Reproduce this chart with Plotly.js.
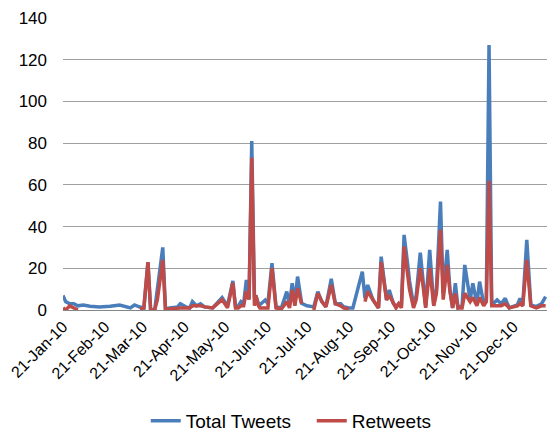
<!DOCTYPE html>
<html>
<head>
<meta charset="utf-8">
<script src="https://cdn.plot.ly/plotly-3.0.1.min.js"></script>
<style>html,body{margin:0;padding:0;background:#fff;}#chart{width:547px;height:434px;}</style>
</head>
<body>
<div id="chart"></div>
<script>
const dates = [
"2010-01-21","2010-01-23","2010-01-26","2010-01-29","2010-02-01","2010-02-05","2010-02-10","2010-02-17","2010-02-25","2010-03-04",
"2010-03-12","2010-03-15","2010-03-19","2010-03-22","2010-03-25","2010-03-27","2010-03-30","2010-04-01","2010-04-05","2010-04-07",
"2010-04-10","2010-04-16","2010-04-18","2010-04-22","2010-04-25","2010-04-27","2010-04-30","2010-05-03","2010-05-06","2010-05-12",
"2010-05-19","2010-05-23","2010-05-27","2010-05-29","2010-05-31","2010-06-02","2010-06-04","2010-06-06","2010-06-08","2010-06-10",
"2010-06-12","2010-06-13","2010-06-15","2010-06-16","2010-06-20","2010-06-22","2010-06-25","2010-06-28","2010-07-02","2010-07-06",
"2010-07-08","2010-07-10","2010-07-12","2010-07-14","2010-07-17","2010-07-21","2010-07-26","2010-07-29","2010-08-01","2010-08-04",
"2010-08-08","2010-08-11","2010-08-15","2010-08-17","2010-08-21","2010-08-24","2010-08-31","2010-09-02","2010-09-04","2010-09-08",
"2010-09-10","2010-09-12","2010-09-14","2010-09-18","2010-09-20","2010-09-23","2010-09-25","2010-09-27","2010-09-29","2010-10-01",
"2010-10-04","2010-10-05","2010-10-08","2010-10-10","2010-10-13","2010-10-15","2010-10-17","2010-10-20","2010-10-23","2010-10-25",
"2010-10-28","2010-10-30","2010-11-02","2010-11-04","2010-11-06","2010-11-08","2010-11-10","2010-11-13","2010-11-15","2010-11-19",
"2010-11-21","2010-11-24","2010-11-26","2010-11-29","2010-12-01","2010-12-03","2010-12-05","2010-12-09","2010-12-12","2010-12-15",
"2010-12-18","2010-12-24","2010-12-26","2010-12-28","2010-12-31","2011-01-03","2011-01-07","2011-01-11","2011-01-14"
];
const totalTweets = [
7,4,3,3,2,2.4,1.8,1.4,1.8,2.4,
1,2.4,1.4,1,23,0,0,10,30,0.5,
1,1.5,3,1.5,1,4,2,3,1.5,1,
6,2,14,1,2,4,3,14.4,5,81,
6,7,3,2.5,4.8,3,22.4,1.6,1,8.8,
2.4,12.8,4,16,3.2,2,1.5,8.8,4,1.6,
15,3,3,1.6,1,1,18.4,5.6,12,4.8,
3.2,1,25.6,4.8,9.6,3.2,1.6,3,2,36,
20,14,2.4,7,27.5,12.8,1.6,28.8,2.4,10,
52,8,28.8,9.6,1,12.8,1,2,21.6,4.8,
12.8,3,13.6,3,5,127,2.4,4.8,3,5.6,
1,2.4,5.6,2,33.6,2.4,1.6,3,6.4
];
const retweets = [
1,0,2,1,0,null,null,null,null,null,
null,null,0.5,1,23,0,0,5,24,0.5,
0.5,1,1,1,1,2,2,2,1.5,1,
5,1,13,1,1,2,2,9,5,73,
2,7,2,1,1,1,20,1,0.5,4,
1,9.6,2,10.4,3,null,0,8,4,1.5,
12,3,2,1,0.5,null,null,4,8.8,4.8,
3,1,23,4.8,7,3,1,3,1,30.4,
16,10,1,5,20,12,1,20,2,8,
38.4,5,21.6,9,1,8,1,1,8,4,
6,2,6,2,4,62,2,2,2,3,
1,2,3,2,24,2,1,2,2
];
const yTicks = [0,20,40,60,80,100,120,140];

const font = "Liberation Sans, Arial, sans-serif";
const traces = [
  {x: dates, y: totalTweets, name: "Total Tweets", type: "scatter", mode: "lines",
   line: {color: "#4A7EBB", width: 3.5}, connectgaps: false},
  {x: dates, y: retweets, name: "Retweets", type: "scatter", mode: "lines",
   line: {color: "#BE4B48", width: 3.5}, connectgaps: false}
];
const layout = {
  width: 547, height: 434,
  margin: {l: 63, r: 0, t: 18, b: 124, autoexpand: false},
  paper_bgcolor: "#fff", plot_bgcolor: "#fff",
  font: {family: font, size: 15, color: "#000"},
  showlegend: true,
  legend: {orientation: "h", xref: "paper", x: 0.171, xanchor: "left",
           yref: "container", y: 0.03, yanchor: "middle", entrywidth: 121,
           font: {family: font, size: 19, color: "#000"}, traceorder: "normal", itemwidth: 30},
  xaxis: {type: "date", range: ["2010-01-21", "2011-01-15"], tick0: "2010-01-21", dtick: "M1",
          tickformat: "%d-%b-%y", tickangle: -45, showgrid: false, zeroline: false, automargin: false,
          showline: true, linecolor: "#868686", linewidth: 1, ticks: "",
          tickfont: {family: font, size: 16, color: "#000"}},
  yaxis: {range: [0, 140], tickvals: yTicks, showgrid: true, gridcolor: "#A0A0A0", gridwidth: 1,
          zeroline: false, showline: false, ticks: "", automargin: false, ticklabelstandoff: 15,
          tickfont: {family: font, size: 17, color: "#000"}}
};
Plotly.newPlot("chart", traces, layout, {staticPlot: true, displayModeBar: false});
</script>
</body>
</html>
